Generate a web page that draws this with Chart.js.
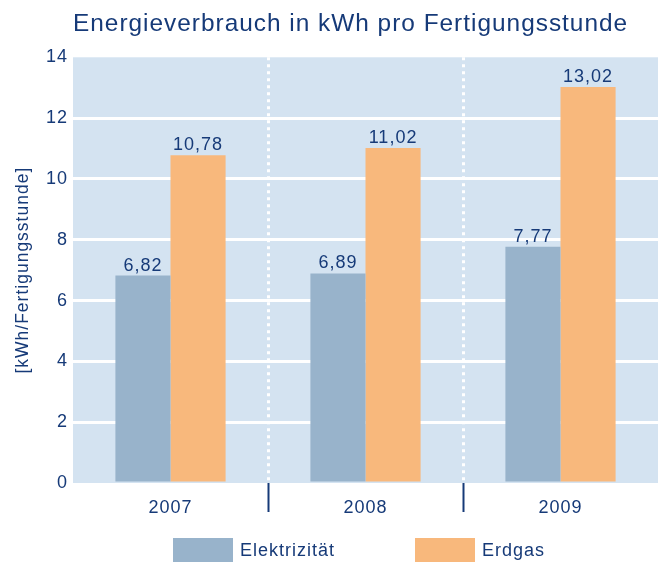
<!DOCTYPE html>
<html>
<head>
<meta charset="utf-8">
<title>Energieverbrauch in kWh pro Fertigungsstunde</title>
<script src="https://cdn.jsdelivr.net/npm/chart.js@4.4.1/dist/chart.umd.min.js"></script>
<style>
  html, body { margin: 0; padding: 0; background: #fff; overflow: hidden; }
  #wrap { position: relative; width: 664px; height: 562px; }
  #legend {
    position: absolute; left: 173px; top: 538px;
    display: flex; gap: 80px;
    font: 18px 'Liberation Sans', Arial, sans-serif; letter-spacing: 1px; color: #163a78;
  }
  .item { display: flex; align-items: flex-start; }
  .box { width: 60px; height: 26px; margin-right: 7px; }
  .txt { line-height: 24px; white-space: nowrap; }
</style>
</head>
<body>
<div id="wrap">
  <canvas id="chart" width="664" height="562"></canvas>
  <div id="legend"></div>
</div>
<script>
// Data
const years = ['2007', '2008', '2009']
const strom = [6.82, 6.89, 7.77]
const gas   = [10.78, 11.02, 13.02]
const yMax  = 14
const yStep = 2

// Colours
const navy      = '#163a78'
const bgBlue    = '#d4e3f1'
const barBlue   = '#98b3cb'
const barOrange = '#f8b87c'
const font      = "'Liberation Sans', Arial, sans-serif"

Chart.defaults.font.family = font
Chart.defaults.color = navy

// letter spacing for the wide original type
const spacing = {
  id: 'spacing',
  beforeUpdate (chart) { chart.ctx.letterSpacing = '1px' },
  beforeDraw (chart) { chart.ctx.letterSpacing = '1px' }
}

// light blue plot background
const plotBackground = {
  id: 'plotBackground',
  beforeDraw (chart) {
    const {ctx, chartArea: a} = chart
    ctx.save()
    ctx.fillStyle = bgBlue
    ctx.fillRect(a.left, a.top, a.right - a.left, a.bottom - a.top)
    ctx.restore()
  }
}

// values above the bars, german decimal comma
const valueLabels = {
  id: 'valueLabels',
  afterDatasetsDraw (chart) {
    const ctx = chart.ctx
    ctx.save()
    ctx.font = '18px ' + font
    ctx.fillStyle = navy
    ctx.textAlign = 'center'
    ctx.textBaseline = 'alphabetic'
    chart.data.datasets.forEach(function (ds, i) {
      chart.getDatasetMeta(i).data.forEach(function (bar, j) {
        ctx.fillText(ds.data[j].toFixed(2).replace('.', ','), bar.x, bar.y - 5)
      })
    })
    ctx.restore()
  }
}

const inner = function (ctx, on) {
  return (ctx.type === 'tick' && ctx.index > 0) ? on : 'transparent'
}

const chart = new Chart(document.getElementById('chart'), {
  type: 'bar',
  data: {
    labels: years,
    datasets: [
      {label: 'Elektrizität', data: strom, backgroundColor: barBlue},
      {label: 'Erdgas', data: gas, backgroundColor: barOrange}
    ]
  },
  options: {
    responsive: false,
    animation: false,
    events: [],
    categoryPercentage: 0.565,
    barPercentage: 1,
    layout: {padding: {left: 9, right: 6, top: 0, bottom: 45}},
    plugins: {
      legend : {display: false},
      tooltip: {enabled: false},
      title  : {
        display : true,
        text    : 'Energieverbrauch in kWh pro Fertigungsstunde',
        align   : 'start',
        fullSize: false,
        color   : navy,
        font    : {size: 24.4, weight: 'normal'},
        padding : {top: 10, bottom: 18}
      }
    },
    scales: {
      x: {
        grid  : {
          offset    : true,
          color     : ctx => inner(ctx, '#ffffff'),
          lineWidth : 3,
          tickColor : ctx => inner(ctx, navy),
          tickWidth : 2,
          tickLength: 29
        },
        border: {display: false, dash: [3, 4]},
        ticks : {color: navy, font: {size: 18}, padding: -15},
        afterFit (scale) { scale.height = 34 }
      },
      y: {
        min   : 0,
        max   : yMax,
        ticks : {stepSize: yStep, color: navy, font: {size: 18}, padding: 5},
        grid  : {
          color    : ctx => (ctx.tick && ctx.tick.value > 0 && ctx.tick.value < yMax) ? '#ffffff' : 'transparent',
          lineWidth: 3,
          drawTicks: false
        },
        border: {display: false},
        title : {
          display: true,
          text   : '[kWh/Fertigungsstunde]',
          color  : navy,
          font   : {size: 17.5},
          padding: {top: 4, bottom: 4}
        },
        afterFit (scale) { scale.width = 64 }
      }
    }
  },
  plugins: [spacing, plotBackground, valueLabels]
})

// legend below the plot
const legend = document.getElementById('legend')
chart.data.datasets.forEach(function (ds) {
  legend.insertAdjacentHTML('beforeend',
    '<div class="item"><span class="box" style="background:' + ds.backgroundColor + '"></span>' +
    '<span class="txt">' + ds.label + '</span></div>')
})
</script>
</body>
</html>
